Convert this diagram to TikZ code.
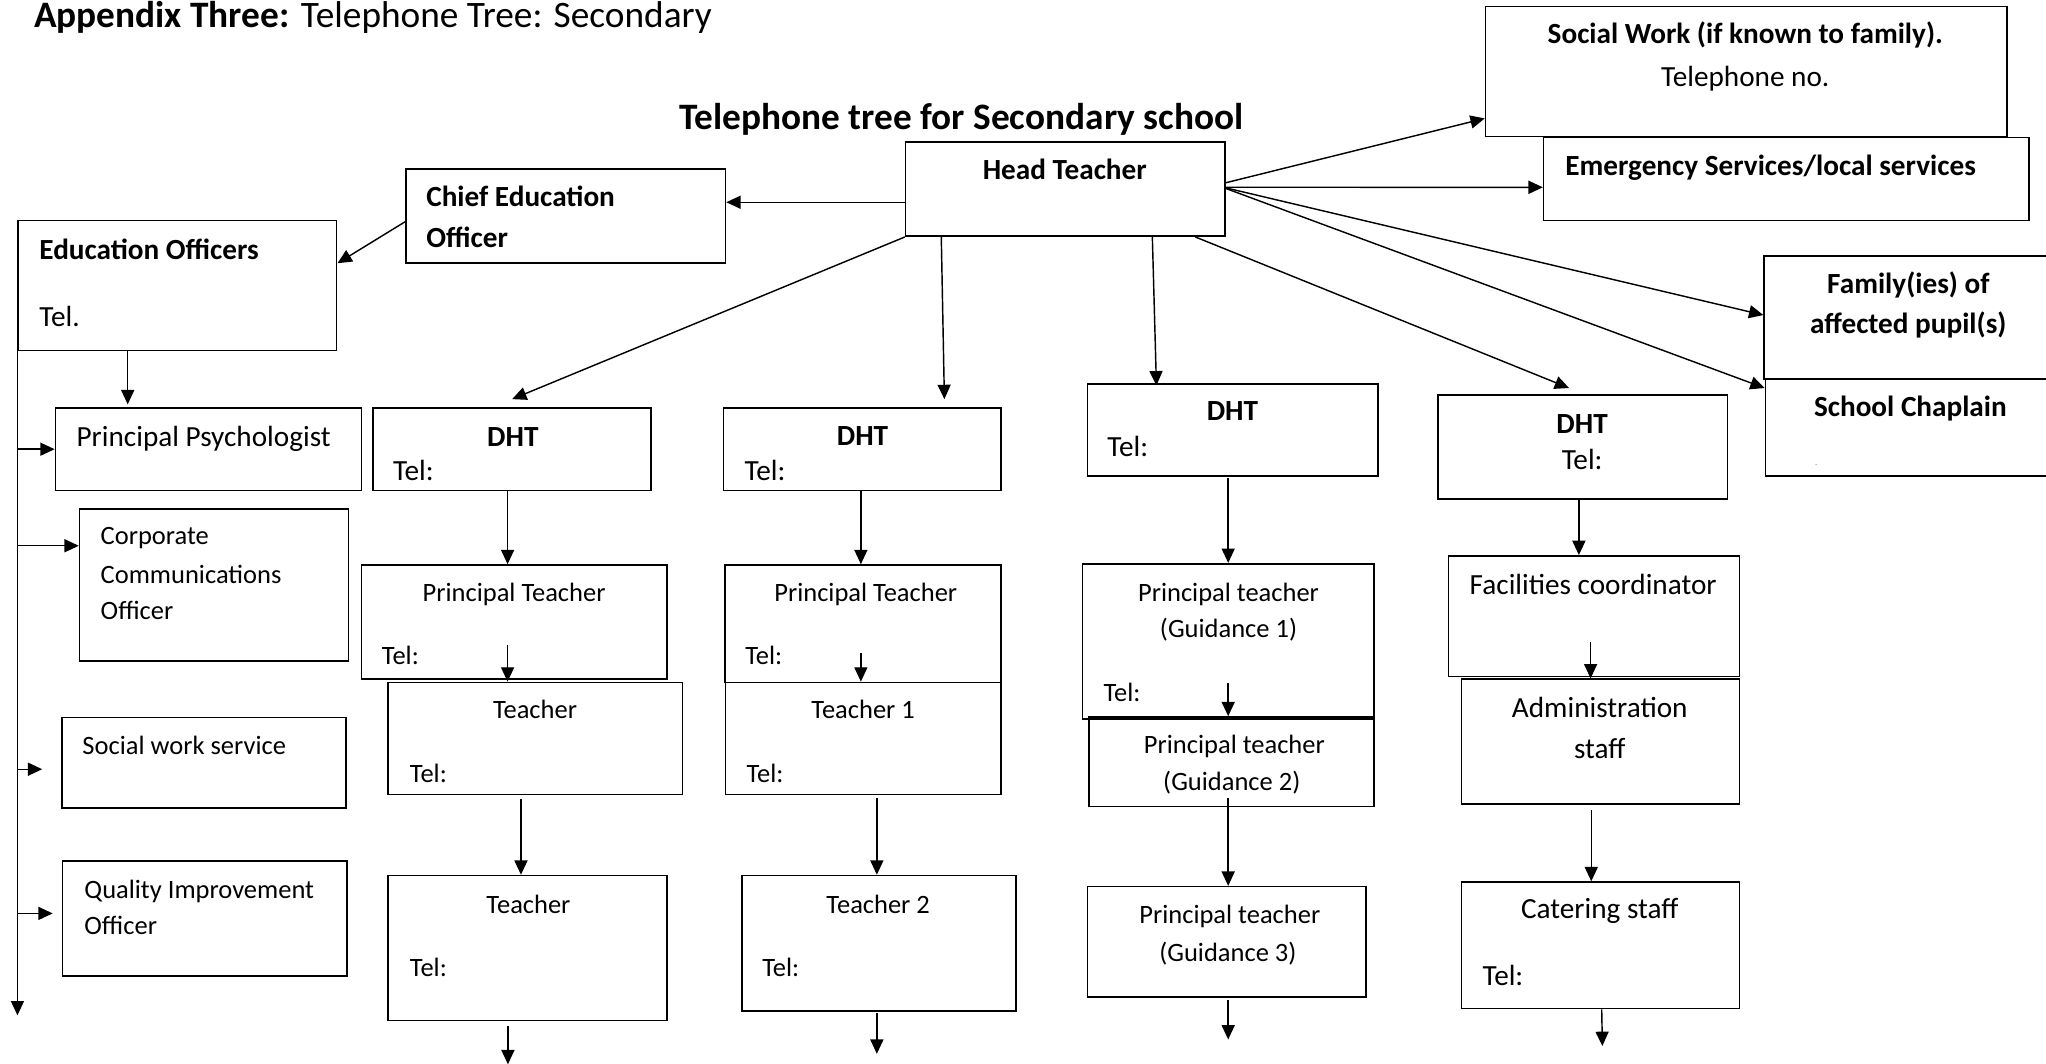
\documentclass[tikz,border=0pt]{standalone}
\usepackage{fontspec}
\setmainfont{Carlito}
\usetikzlibrary{arrows.meta,calc,fit}
\begin{document}
\begin{tikzpicture}[x=1pt,y=-1pt]
\tikzset{
  bx/.style={draw, line width=1.25pt, inner sep=0pt},
  arr/.style={line width=1.1pt, -{Triangle[length=11pt,width=10pt]}},
  tc/.style={inner sep=0pt, anchor=base},
  tw/.style={inner sep=0pt, anchor=base west},
  fT/.style={font=\fontsize{28.6}{34}\selectfont},
  fB/.style={font=\fontsize{22.4}{27}\selectfont\bfseries},
  fR/.style={font=\fontsize{22.4}{27}\selectfont},
  fS/.style={font=\fontsize{20.3}{24}\selectfont},
}
\useasboundingbox (0,0) rectangle (1568,815);

% ---------- boxes ----------
\node[bx, fit={(694,109) (939,181)}] (ht) {};
\node[bx, fit={(311,129.5) (556,201.5)}] (ceo) {};
\node[bx, fit={(14,169) (258,268.5)}] (eo) {};
\node[bx, fit={(1138.5,5) (1538,104.5)}] (sw) {};
\node[bx, fit={(1183,105.5) (1555,169)}] (es) {};
\node[bx, fit={(1352,196) (1575,290.5)}] (fam) {};
\node[bx, fit={(1353,290.5) (1575,365)}] (ch) {};
\node[bx, fit={(42.5,312.5) (277,376)}] (pp) {};
\node[bx, fit={(61,390) (267,506.5)}] (cc) {};
\node[bx, fit={(47.5,550) (265,619)}] (sws) {};
\node[bx, fit={(48,660) (266,748)}] (qio) {};
% column 1
\node[bx, fit={(286,312.5) (499,376)}] (d1) {};
\node[bx, fit={(277,433) (511,520.5)}] (p1) {};
\node[bx, fit={(297.5,523) (523,609)}] (t1a) {};
\node[bx, fit={(297.5,671) (511,782)}] (t1b) {};
% column 2
\node[bx, fit={(554.5,312.5) (767,376)}] (d2) {};
\node[bx, fit={(555.5,433) (767,523)}] (p2) {};
\node[bx, fit={(556,523) (767,609)}] (t2a) {};
\node[bx, fit={(568.5,671) (778.5,775)}] (t2b) {};
% column 3
\node[bx, fit={(833.5,294.5) (1056,365)}] (d3) {};
\node[bx, fit={(829.5,432) (1053,551)}] (g1) {};
\node[bx, fit={(834.5,549.5) (1053,618)}] (g2) {};
\node[bx, fit={(833.5,679.5) (1047,764)}] (g3) {};
% column 4
\node[bx, fit={(1102,302.5) (1324,382.5)}] (d4) {};
\node[bx, fit={(1110,426) (1333,518.5)}] (fc) {};
\node[bx, fit={(1120,520.5) (1333,616)}] (adm) {};
\node[bx, fit={(1120,676) (1333,773)}] (cat) {};

% ---------- texts ----------
\node[tw,fT] (title) at (26,21) {\textbf{Appendix Three:} Telephone Tree: Secondary};
\node[tw,fT] (sub) at (520.5,99.5) {\textbf{Telephone tree for Secondary school}};
\node[tc,fB] (tht) at (816,137.5) {Head Teacher};
\node[tw,fB] (tceo1) at (326.5,158.5) {Chief Education};
\node[tw,fB] (tceo2) at (326.5,190) {Officer};
\node[tw,fB] (teo1) at (30,199) {Education Officers};
\node[tw,fR] (teo2) at (30,250.5) {Tel.};
\node[tc,fB] (tsw1) at (1337.5,33.5) {Social Work (if known to family).};
\node[tc,fR] (tsw2) at (1337.5,66) {Telephone no.};
\node[tw,fB] (tes) at (1199.5,134.5) {Emergency Services/local services};
\node[tc,fB] (tfam1) at (1462.5,225) {Family(ies) of};
\node[tc,fB] (tfam2) at (1462.5,255.5) {affected pupil(s)};
\node[tw,fB] (tch) at (1390,319.5) {School Chaplain};
\node[tw,font=\fontsize{5}{6}\selectfont] (tchdot) at (1391,357) {.};
\node[tw,fR] (tpp) at (58.5,342) {Principal Psychologist};
\node[tw,fS] (tcc1) at (77,417.5) {Corporate};
\node[tw,fS] (tcc2) at (77,447) {Communications};
\node[tw,fS] (tcc3) at (77,475) {Officer};
\node[tw,fS] (tsws) at (63,578) {Social work service};
\node[tw,fS] (tqio1) at (64.5,688.5) {Quality Improvement};
\node[tw,fS] (tqio2) at (64.5,716.5) {Officer};
% column 1
\node[tc,fB] (td1) at (393,342) {DHT};
\node[tw,fR] (td1t) at (301,368.5) {Tel:};
\node[tc,fS] (tp1) at (394,461) {Principal Teacher};
\node[tw,fS] (tp1t) at (292.5,509) {Tel:};
\node[tc,fS] (tt1a) at (410,551) {Teacher};
\node[tw,fS] (tt1at) at (314,599.5) {Tel:};
\node[tc,fS] (tt1b) at (405,700) {Teacher};
\node[tw,fS] (tt1bt) at (314,748.5) {Tel:};
% column 2
\node[tc,fB] (td2) at (661,341.5) {DHT};
\node[tw,fR] (td2t) at (570.5,368.5) {Tel:};
\node[tc,fS] (tp2) at (663.5,461) {Principal Teacher};
\node[tw,fS] (tp2t) at (571,509) {Tel:};
\node[tc,fS] (tt2a) at (661.5,551) {Teacher 1};
\node[tw,fS] (tt2at) at (572,599.5) {Tel:};
\node[tc,fS] (tt2b) at (673,700) {Teacher 2};
\node[tw,fS] (tt2bt) at (584,748.5) {Tel:};
% column 3
\node[tc,fB] (td3) at (944.5,322.5) {DHT};
\node[tw,fR] (td3t) at (848.5,350) {Tel:};
\node[tc,fS] (tg1a) at (941.5,461) {Principal teacher};
\node[tc,fS] (tg1b) at (941.5,488.5) {(Guidance 1)};
\node[tw,fS] (tg1t) at (845.5,537.5) {Tel:};
\node[tc,fS] (tg2a) at (946,577.5) {Principal teacher};
\node[tc,fS] (tg2b) at (944,606) {(Guidance 2)};
\node[tc,fS] (tg3a) at (942.5,707.5) {Principal teacher};
\node[tc,fS] (tg3b) at (941,736.5) {(Guidance 3)};
% column 4
\node[tc,fB] (td4) at (1212.5,332) {DHT};
\node[tc,fR] (td4t) at (1212.5,360) {Tel:};
\node[tc,fR] (tfc) at (1221,455.5) {Facilities coordinator};
\node[tc,fR] (tadm1) at (1226,550) {Administration};
\node[tc,fR] (tadm2) at (1226,581.5) {staff};
\node[tc,fR] (tcat) at (1226,704) {Catering staff};
\node[tw,fR] (tcatt) at (1136,755.5) {Tel:};

% ---------- free ends ----------
\coordinate (e0) at ($(eo.south west)+(0,509)$);
\coordinate (e1) at ($(t1b.south)+(-15,33)$);
\coordinate (e2) at ($(t2b.south)+(-1.5,32)$);
\coordinate (e3) at ($(g3.south)+(1,32)$);
\coordinate (e4) at ($(cat.south)+(1.5,28)$);
\coordinate (esws) at ($(sws.west)+(-14.5,5)$);
\coordinate (eqio) at ($(qio.west)+(-7,-4)$);

% ---------- connectors from Head Teacher ----------
\draw[arr] ($(ht.west)+(0,10)$) -- ($(ceo.east)+(0,-10.5)$);
\draw[arr] ($(ceo.west)+(0,4.5)$) -- ($(eo.east)+(0,-17)$);
\draw[arr] ($(ht.east)+(0,-5)$) -- ($(sw.west)+(0,36)$);
\draw[arr] ($(ht.east)+(0,-1.5)$) -- ($(es.west)+(0,6.3)$);
\draw[arr] ($(ht.east)+(0,-1)$) -- ($(fam.west)+(0,-1.8)$);
\draw[arr] ($(ht.east)+(0,-0.5)$) -- ($(ch.north west)+(0,7.5)$);
\draw[arr] (ht.south west) -- ($(d1.north)+(0,-6)$);
\draw[arr] ($(ht.south west)+(28,0)$) -- ($(d2.north)+(63,-6)$);
\draw[arr] ($(ht.south east)+(-56.5,0)$) -- ($(d3.north)+(-58.5,1.5)$);
\draw[arr] ($(ht.south east)+(-23.5,0)$) -- ($(d4.north)+(-10.5,-4.5)$);

% ---------- left column ----------
\draw[arr] ($(eo.south west)+(84.5,0)$) -- ($(pp.north west)+(56,-2)$);
\draw[arr] (eo.south west) -- (e0);
\draw[arr] (eo.south west |- pp.west) -- (pp.west);
\draw[arr] ($(cc.west)+(0,-30)$) coordinate (ccin) (eo.south west |- ccin) -- (ccin);
\draw[arr] (eo.south west |- esws) -- (esws);
\draw[arr] (eo.south west |- eqio) -- (eqio);

% ---------- column 1 ----------
\draw[arr] ($(d1.south)+(-3.5,0)$) coordinate (s1) -- (s1 |- p1.north);
\draw[arr] ($(p1.south)+(-5,-27)$) coordinate (s2) -- (s2 |- t1a.north);
\draw[arr] ($(t1a.south)+(-11,3)$) coordinate (s3) -- (s3 |- t1b.north);
\draw[arr] ($(t1b.south)+(-15,4)$) -- (e1);
% ---------- column 2 ----------
\draw[arr] ($(d2.south)+(-1,0)$) coordinate (s4) -- (s4 |- p2.north);
\draw[arr] ($(p2.south)+(-1.5,-23.5)$) coordinate (s5) -- (s5 |- t2a.north);
\draw[arr] ($(t2a.south)+(10.5,2)$) coordinate (s6) -- (s6 |- t2b.north);
\draw[arr] ($(t2b.south)+(-1.5,1)$) -- (e2);
% ---------- column 3 ----------
\draw[arr] ($(d3.south)+(-3.5,1)$) coordinate (s7) -- (s7 |- g1.north);
\draw[arr] ($(g1.south)+(0,-28)$) coordinate (s8) -- (s8 |- g2.north);
\draw[arr] ($(g2.south)+(-2.5,-7)$) coordinate (s9) -- (s9 |- g3.north);
\draw[arr] ($(g3.south)+(1,1.5)$) -- (e3);
% ---------- column 4 ----------
\draw[arr] ($(d4.south)+(-3,0)$) coordinate (s10) -- (s10 |- fc.north);
\draw[arr] ($(fc.south)+(-2.5,-27)$) coordinate (s11) -- (s11 |- adm.north);
\draw[arr] ($(adm.south)+(-7,4.5)$) coordinate (s12) -- (s12 |- cat.north);
\draw[arr] ($(cat.south)+(1,0)$) -- (e4);
\end{tikzpicture}
\end{document}
